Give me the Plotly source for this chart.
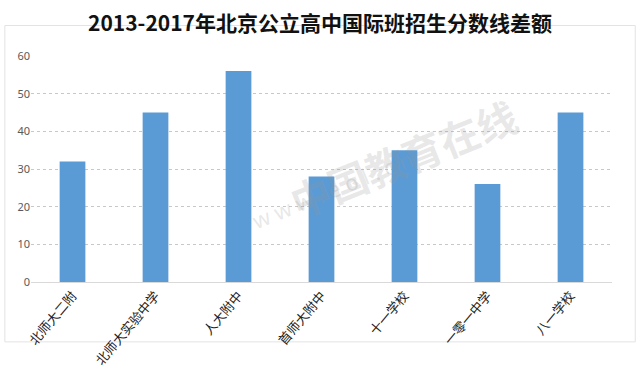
import plotly.graph_objects as go

categories = ["北师大二附", "北师大实验中学", "人大附中", "首师大附中", "十一学校", "一零一中学", "八一学校"]
values = [32, 45, 56, 28, 35, 26, 45]
title_text = "2013-2017年北京公立高中国际班招生分数线差额"

fig = go.Figure(go.Bar(x=categories, y=values, marker=dict(color="#5B9BD5", line=dict(width=0))))

fig.update_layout(
    width=640, height=387,
    margin=dict(l=31, r=28, t=56, b=105),
    paper_bgcolor="white", plot_bgcolor="white",
    bargap=0.69,
    showlegend=False,
    title=dict(text=title_text, x=0.5, xanchor="center", y=0.94, yanchor="middle",
               font=dict(family="Noto Sans CJK SC", size=21, color="#111111", weight=600)),
    font=dict(family="Noto Sans CJK SC"),
)
fig.update_yaxes(range=[0, 60], dtick=10, showgrid=True, gridcolor="#C8C8C8", griddash="dot",
                 gridwidth=1, zeroline=True, zerolinecolor="#D9D9D9", zerolinewidth=1,
                 tickfont=dict(size=11, color="#595959", family="Noto Sans"), ticks="", showline=False)
fig.update_xaxes(tickangle=-50, tickfont=dict(size=13, color="#222222", family="Noto Sans CJK SC"),
                 showline=True, linecolor="#D9D9D9", ticks="")

# faint border
fig.add_shape(type="rect", xref="paper", yref="paper", x0=-0.045, x1=1.04, y0=-0.265, y1=1.135,
              line=dict(color="#E3E3E3", width=1), layer="below")

# watermark
fig.add_annotation(text="中国教育在线", xref="paper", yref="paper", x=0.64, y=0.55, showarrow=False,
                   textangle=-22, font=dict(size=40, color="rgba(150,150,150,0.22)", family="Noto Sans CJK SC", weight="bold"))
fig.add_annotation(text="w w w . e o l . c n", xref="paper", yref="paper", x=0.67, y=0.41, showarrow=False,
                   textangle=-22, font=dict(size=22, color="rgba(150,150,150,0.22)", family="Noto Sans"))

fig.write_html("out.html")
